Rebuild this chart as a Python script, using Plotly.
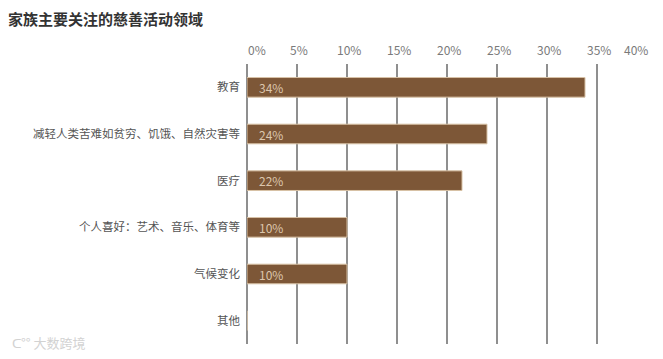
import plotly.graph_objects as go

title = "家族主要关注的慈善活动领域"
categories = ["教育", "减轻人类苦难如贫穷、饥饿、自然灾害等", "医疗",
              "个人喜好：艺术、音乐、体育等", "气候变化", "其他"]
values = [33.8, 24.0, 21.5, 10.0, 10.0, 0.0]
value_labels = ["34%", "24%", "22%", "10%", "10%", ""]
tick_vals = [0, 5, 10, 15, 20, 25, 30, 35, 40]
tick_text = ["0%", "5%", "10%", "15%", "20%", "25%", "30%", "35%", "40%"]
watermark = "大数跨境"

FONT = "Noto Sans CJK SC"
BAR = "#7d5737"
GRID = "#8f8f8f"

# the page body adds an 8px offset; the figure is sized to fill the rest
W, H = 655, 351
ML, MR, MT, MB = 239, 16, 56, 15
plot_w = W - ML - MR
plot_h = H - MT - MB

fig = go.Figure()
fig.add_trace(go.Bar(
    x=values, y=categories, orientation="h",
    marker=dict(color=BAR, line=dict(color="#d8c2a6", width=1)),
    width=0.42, hoverinfo="skip",
))

annotations = []
for c, lab in zip(categories, value_labels):
    if lab:
        annotations.append(dict(x=0, y=c, xref="x", yref="y", text=lab,
                                showarrow=False, xanchor="left", xshift=10,
                                font=dict(family=FONT, size=12, color="#dcc6ad")))
for i, (tv, tt) in enumerate(zip(tick_vals, tick_text)):
    if i == 0:
        anchor, xs = "left", -1
    elif i == len(tick_vals) - 1:
        anchor, xs = "right", 3
    else:
        anchor, xs = "center", 2
    annotations.append(dict(x=tv, y=1, xref="x", yref="paper", text=tt,
                            showarrow=False, xanchor=anchor, yanchor="bottom",
                            yshift=4, xshift=xs,
                            font=dict(family=FONT, size=12, color="#7a7a7a")))
annotations.append(dict(text="ᑕ°° " + watermark, xref="paper", yref="paper",
                        x=(2 - ML) / plot_w, y=0.004,
                        xanchor="left", yanchor="middle", showarrow=False,
                        font=dict(family=FONT, size=13, color="#d2d2d2")))

fig.update_layout(
    width=W, height=H,
    margin=dict(l=ML, r=MR, t=MT, b=MB, autoexpand=False),
    paper_bgcolor="white", plot_bgcolor="white",
    showlegend=False,
    annotations=annotations,
    title=dict(text=f"<b>{title}</b>", x=0, xref="paper", xanchor="left",
               y=1 - 12 / H, yanchor="middle",
               font=dict(family=FONT, size=15, color="#333333")),
    xaxis=dict(range=[0, 40], tickvals=tick_vals, showticklabels=False,
               showgrid=True, gridcolor=GRID, gridwidth=1.5,
               zeroline=True, zerolinecolor=GRID, zerolinewidth=1.5,
               showline=False, fixedrange=True),
    yaxis=dict(categoryorder="array", categoryarray=categories,
               range=[5.5, -0.5], showgrid=False, zeroline=False, showline=False,
               ticks="", ticklabelstandoff=6,
               tickfont=dict(family=FONT, size=11.5, color="#555555")),
)
fig.layout.title.xref = "container"
fig.layout.title.x = 0

fig.write_html("out.html")
